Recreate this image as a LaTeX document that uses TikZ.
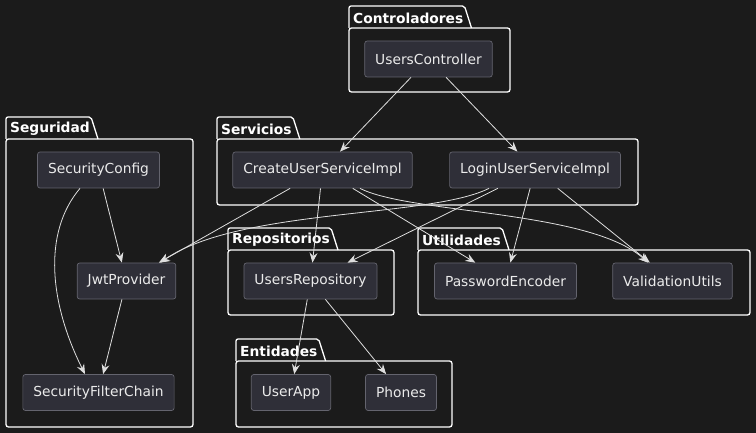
\documentclass[tikz,border=0pt]{standalone}
\usepackage{fontspec}
\setmainfont{DejaVu Sans}
\usepackage{tikz}
\usetikzlibrary{arrows.meta,positioning,calc}
\definecolor{bgdark}{RGB}{27,27,27}
\definecolor{classfill}{RGB}{47,47,56}
\definecolor{classborder}{RGB}{100,100,110}
\definecolor{arrowgray}{RGB}{222,222,222}
\definecolor{textlight}{RGB}{235,235,235}

% package frame: name, title, left, top, right, bottom
\newcommand{\umlpackage}[6]{%
  \node[pkgtitle] (#1) at (#3+4,#4+12) {#2};
  \draw[pkgline, rounded corners=2pt] (#3,#4+22) -- (#3,#4) -- ([xshift=1pt]#1.east |- #3,#4) -- ([xshift=8pt]#1.east |- #3,#4+22);
  \draw[pkgline, rounded corners=2.5pt] (#3,#4+22) rectangle (#5,#6);
}

\begin{document}
\begin{tikzpicture}[x=1pt, y=-1pt,
    pkgline/.style={draw=white, line width=1.3pt},
    pkgtitle/.style={anchor=west, inner sep=0pt, text=white, font=\bfseries\fontsize{13.8}{16}\selectfont},
    classbox/.style={draw=classborder, fill=classfill, rounded corners=2.5pt, line width=0.7pt,
        text=textlight, font=\fontsize{13.8}{16}\selectfont, inner xsep=10.5pt, minimum height=36pt},
    dep/.style={draw=arrowgray, line width=0.8pt, -{Stealth[length=10pt,width=8pt,inset=3.5pt]}}]
    \fill[bgdark] (0,0) rectangle (756,433);
    \useasboundingbox (0,0) rectangle (756,433);

    % packages
    \umlpackage{pkgctrl}{Controladores}{349}{6}{510}{92}
    \umlpackage{pkgsec}{Seguridad}{6}{117}{193}{427}
    \umlpackage{pkgsvc}{Servicios}{217}{117}{638}{205}
    \umlpackage{pkgrepo}{Repositorios}{228}{228}{394}{315}
    \umlpackage{pkgutil}{Utilidades}{418}{228}{750}{315}
    \umlpackage{pkgent}{Entidades}{236}{339}{452}{427}

    % classes
    \node[classbox] (usersctrl) at (428.5,59) {UsersController};
    \node[classbox] (securityconfig) at (98.5,170) {SecurityConfig};
    \node[classbox] (jwtprovider) at (126.5,281) {JwtProvider};
    \node[classbox] (filterchain) at (98.5,392.5) {SecurityFilterChain};
    \node[classbox] (createsvc) at (322.5,170) {CreateUserServiceImpl};
    \node[classbox] (loginsvc) at (535,170) {LoginUserServiceImpl};
    \node[classbox] (usersrepo) at (310.5,281) {UsersRepository};
    \node[classbox] (pwencoder) at (505.5,281) {PasswordEncoder};
    \node[classbox] (validutils) at (672.5,281) {ValidationUtils};
    \node[classbox] (userapp) at (291,392.5) {UserApp};
    \node[classbox] (phones) at (401,392.5) {Phones};

    % dependencies
    \draw[dep] (usersctrl) -- (createsvc);
    \draw[dep] (usersctrl) -- (loginsvc);
    \draw[dep] (securityconfig) -- (jwtprovider);
    \draw[dep] ([xshift=-18.5pt]securityconfig.south) .. controls +(-38,45) and +(-35,-70) .. ([xshift=-13.5pt]filterchain.north);
    \draw[dep] (jwtprovider) -- (filterchain);
    \draw[dep] (createsvc) -- (jwtprovider);
    \draw[dep] (createsvc) -- (usersrepo);
    \draw[dep] (createsvc) -- (pwencoder);
    \draw[dep] ([xshift=37.5pt]createsvc.south) .. controls (410,214) and (590,210) .. ([xshift=-24.5pt]validutils.north);
    \draw[dep] ([xshift=-46pt]loginsvc.south) .. controls (430,218) and (240,208) .. ([xshift=33.5pt]jwtprovider.north);
    \draw[dep] (loginsvc) -- (usersrepo);
    \draw[dep] (loginsvc) -- (pwencoder);
    \draw[dep] (loginsvc) -- (validutils);
    \draw[dep] (usersrepo) -- (userapp);
    \draw[dep] (usersrepo) -- (phones);
\end{tikzpicture}
\end{document}
